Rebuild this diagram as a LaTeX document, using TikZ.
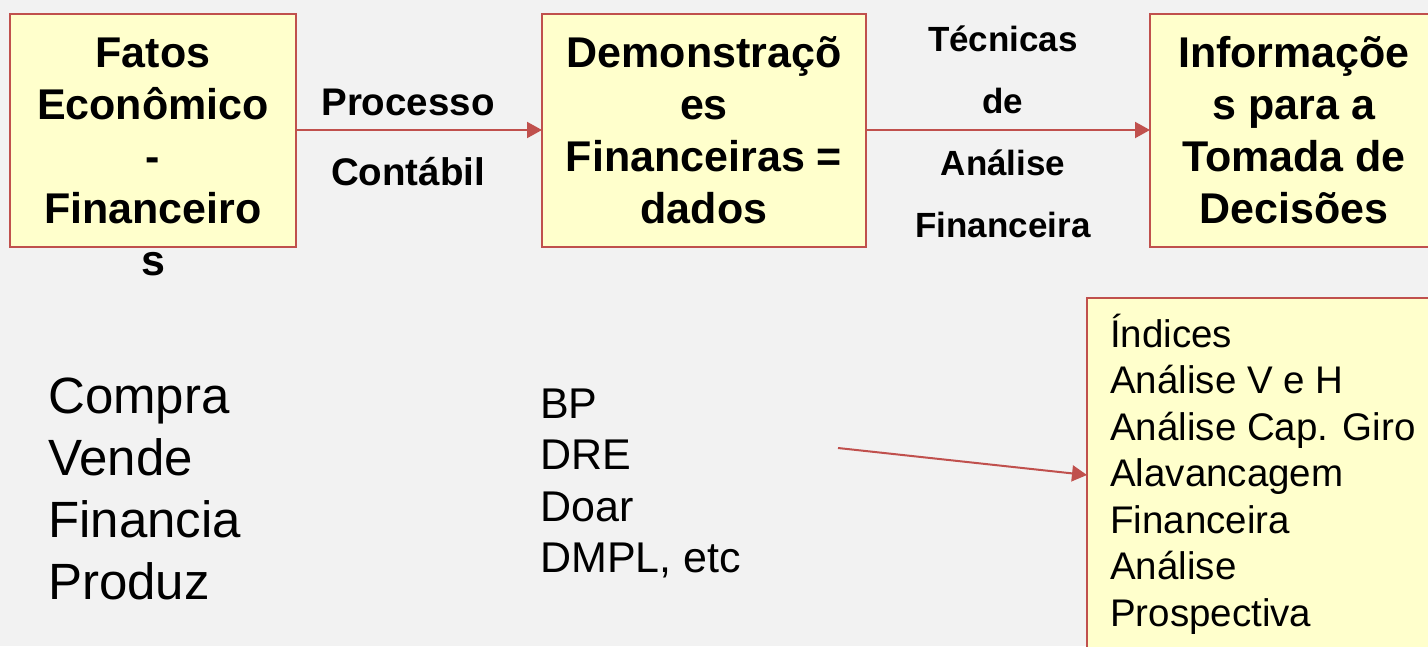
\documentclass[tikz,border=0pt]{standalone}
\usepackage{fontspec}
\setmainfont{Liberation Sans}
\usetikzlibrary{arrows.meta}
\definecolor{bg}{HTML}{F2F2F2}
\definecolor{boxfill}{HTML}{FFFFCC}
\definecolor{boxline}{HTML}{C0504D}
\tikzset{
  box/.style={draw=boxline, fill=boxfill, line width=2pt, inner sep=0pt, outer sep=0pt},
  conn/.style={draw=boxline, line width=2pt, -{Triangle[length=15pt,width=16pt]}},
  boxtext/.style={font=\bfseries\fontsize{43}{52}\selectfont, align=center, inner sep=0pt, anchor=base},
  arrowlabel/.style={align=center, inner sep=0pt, anchor=base},
  listtext/.style={align=left, inner sep=0pt, anchor=base west}
}
\begin{document}
\begin{tikzpicture}[x=1pt,y=-1pt]
\useasboundingbox (0,0) rectangle (1428,646);
\fill[bg] (0,0) rectangle (1428,646);
\clip (0,0) rectangle (1428,646);
% boxes
\node[box, minimum width=286pt, minimum height=233pt] (b1) at (153,130) {};
\node[box, minimum width=324pt, minimum height=233pt] (b2) at (704,130) {};
\node[box, minimum width=290pt, minimum height=233pt] (b3) at (1295,130) {};
\node[box, minimum width=353pt, minimum height=354pt] (b4) at (1263.5,475) {};
% box texts (anchor base = last line's baseline)
\node[boxtext] (t1) at (153,275) {Fatos\\Econômico\\-\\Financeiro\\s};
\node[boxtext] (t2) at (704,223) {Demonstraçõ\\es\\Financeiras =\\dados};
\node[boxtext] (t3) at (1294,223) {Informaçõe\\s para a\\Tomada de\\Decisões};
% arrow labels
\node[arrowlabel, font=\bfseries\fontsize{38.5}{70}\selectfont] (l1) at (408,185) {Processo\\Contábil};
\node[arrowlabel, font=\bfseries\fontsize{35}{61.7}\selectfont] (l2) at (1003,237) {Técnicas\\de\\Análise\\Financeira};
% lists
\node[listtext, font=\fontsize{51}{62}\selectfont] (acts) at (48,599) {Compra\\Vende\\Financia\\Produz};
\node[listtext, font=\fontsize{43}{51.5}\selectfont] (stmts) at (540,572.5) {BP\\DRE\\Doar\\DMPL, etc};
\node[listtext, font=\fontsize{38.5}{46.5}\selectfont] (tech) at (1110,626) {Índices\\Análise V e H\\Análise Cap. Giro\\Alavancagem\\Financeira\\Análise\\Prospectiva};
% connectors
\draw[conn] (b1.east) -- (b2.west);
\draw[conn] (b2.east) -- (b3.west);
\coordinate (a3s) at (838,448);
\draw[conn] (a3s) -- (b4.west);
\end{tikzpicture}
\end{document}
